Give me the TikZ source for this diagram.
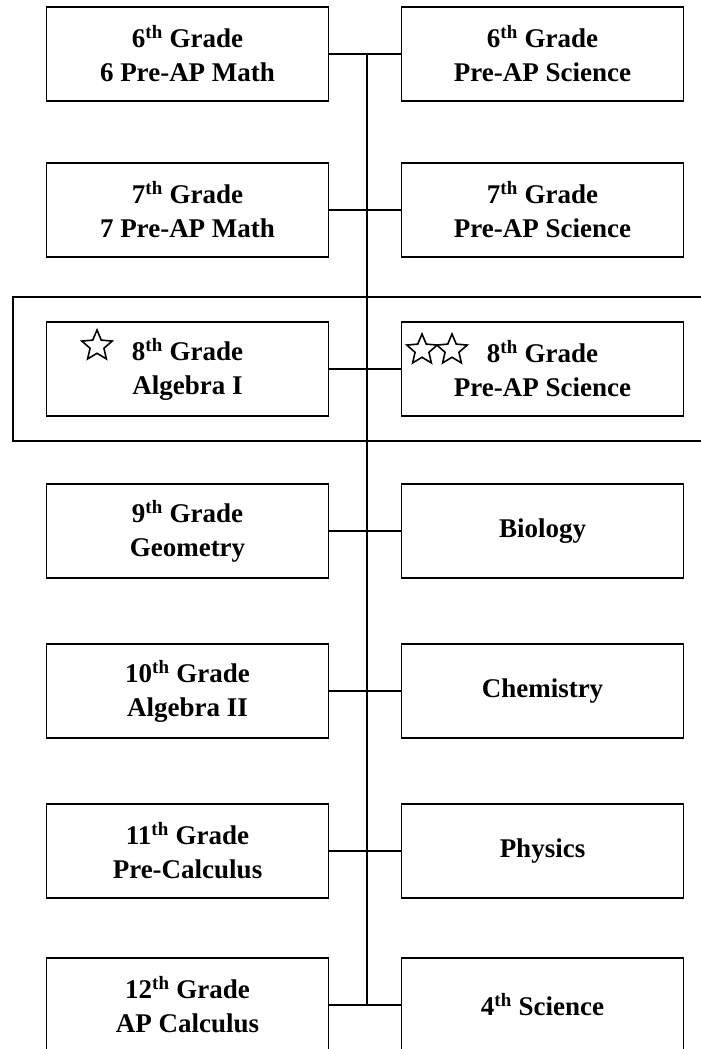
\documentclass[tikz,border=0pt]{standalone}
\usepackage{fontspec}
\setmainfont{Liberation Serif}
\usetikzlibrary{shapes.geometric}
\begin{document}
\begin{tikzpicture}[x=1pt,y=-1pt,
  box/.style={draw, line width=1.6pt, minimum width=282pt, minimum height=94pt, inner sep=0pt, align=center, font=\fontsize{27}{34}\selectfont\bfseries},
  conn/.style={line width=2.3pt},
  spine/.style={line width=2.8pt},
  starsym/.style={star, star points=5, star point ratio=2.2, minimum size=32pt, inner sep=0pt, draw, line width=1.6pt, fill=white},
  frame/.style={draw, line width=1.6pt}]
\useasboundingbox (0,0) rectangle (701,1049);
% highlighted 8th grade band
\draw[frame] (13,297) rectangle (712,441);
% spine
\coordinate (sTop) at (367,54);
\coordinate (sBot) at (367,1005);
\draw[spine] (sTop) -- (sBot);
% boxes
\node[box] (L1) at (187.5,54)  {6\textsuperscript{th} Grade\\6 Pre-AP Math};
\node[box] (R1) at (542.5,54)  {6\textsuperscript{th} Grade\\Pre-AP Science};
\node[box] (L2) at (187.5,210) {7\textsuperscript{th} Grade\\7 Pre-AP Math};
\node[box] (R2) at (542.5,210) {7\textsuperscript{th} Grade\\Pre-AP Science};
\node[box] (L3) at (187.5,369) {8\textsuperscript{th} Grade\\Algebra I};
\node[box] (R3) at (542.5,369) {8\textsuperscript{th} Grade\\Pre-AP Science};
\node[box] (L4) at (187.5,531) {9\textsuperscript{th} Grade\\Geometry};
\node[box] (R4) at (542.5,531) {Biology};
\node[box] (L5) at (187.5,691) {10\textsuperscript{th} Grade\\Algebra II};
\node[box] (R5) at (542.5,691) {Chemistry};
\node[box] (L6) at (187.5,851) {11\textsuperscript{th} Grade\\Pre-Calculus};
\node[box] (R6) at (542.5,851) {Physics};
\node[box] (L7) at (187.5,1005) {12\textsuperscript{th} Grade\\AP Calculus};
\node[box] (R7) at (542.5,1005) {4\textsuperscript{th} Science};
% connectors
\foreach \i in {1,...,7} { \draw[conn] (L\i) -- (R\i); }
% stars
\node[starsym] (s1) at (97,346) {};
\node[starsym] (s2) at (422,350) {};
\node[starsym] (s3) at (452,350) {};
\end{tikzpicture}
\end{document}
